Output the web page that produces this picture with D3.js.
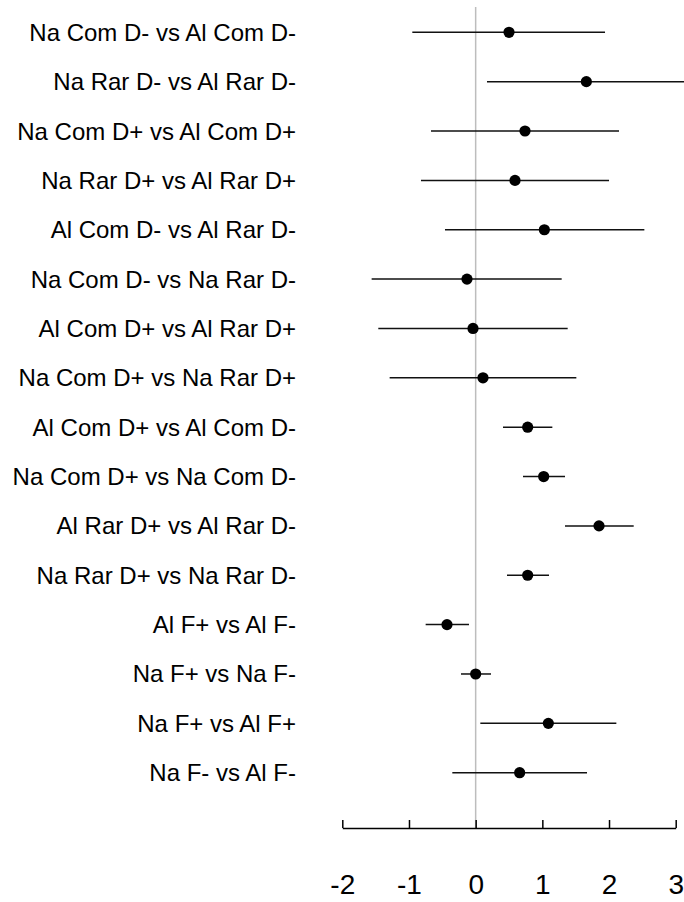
<!DOCTYPE html>
<html>
<head>
<meta charset="utf-8">
<script src="https://cdn.jsdelivr.net/npm/d3@7"></script>
<style>
  html, body { margin: 0; padding: 0; background: #fff; }
  svg { display: block; font-family: "Liberation Sans", Arial, Helvetica, sans-serif; }
</style>
</head>
<body>
<div id="chart"></div>
<script>
// Contrast labels, top to bottom
const comparisons = [
  "Na Com D- vs Al Com D-",
  "Na Rar D- vs Al Rar D-",
  "Na Com D+ vs Al Com D+",
  "Na Rar D+ vs Al Rar D+",
  "Al Com D- vs Al Rar D-",
  "Na Com D- vs Na Rar D-",
  "Al Com D+ vs Al Rar D+",
  "Na Com D+ vs Na Rar D+",
  "Al Com D+ vs Al Com D-",
  "Na Com D+ vs Na Com D-",
  "Al Rar D+ vs Al Rar D-",
  "Na Rar D+ vs Na Rar D-",
  "Al F+ vs Al F-",
  "Na F+ vs Na F-",
  "Na F+ vs Al F+",
  "Na F- vs Al F-"
];

// Point estimates and interval bounds
const estimates = [0.50, 1.66, 0.74, 0.59, 1.03, -0.13, -0.04, 0.11, 0.78, 1.02, 1.85, 0.78, -0.43, 0.00, 1.09, 0.66];
const lower     = [-0.95, 0.17, -0.67, -0.82, -0.46, -1.56, -1.46, -1.29, 0.41, 0.71, 1.34, 0.47, -0.75, -0.22, 0.07, -0.35];
const upper     = [1.94, 3.15, 2.15, 2.00, 2.53, 1.29, 1.38, 1.51, 1.15, 1.34, 2.37, 1.10, -0.10, 0.23, 2.11, 1.67];

// Axis tick values
const tickValues = [-2, -1, 0, 1, 2, 3];

const width = 684, height = 902;

const rows = comparisons.map((label, i) => ({
  label, est: estimates[i], lo: lower[i], hi: upper[i]
}));

const svg = d3.select("#chart").append("svg")
  .attr("width", width)
  .attr("height", height);

const x = d3.scaleLinear().domain([-2, 3]).range([342.3, 675.7]);
const y = d3.scalePoint().domain(comparisons).range([32.3, 772.7]);
const axisY = 828;

// Reference line at zero
svg.append("line")
  .attr("x1", x(0)).attr("x2", x(0))
  .attr("y1", 7).attr("y2", axisY)
  .attr("stroke", "#bdbdbd")
  .attr("stroke-width", 1.5);

// Interval lines
svg.append("g").selectAll("line")
  .data(rows)
  .join("line")
  .attr("x1", d => x(d.lo))
  .attr("x2", d => x(d.hi))
  .attr("y1", d => y(d.label))
  .attr("y2", d => y(d.label))
  .attr("stroke", "#111")
  .attr("stroke-width", 1.5);

// Point estimates
svg.append("g").selectAll("circle")
  .data(rows)
  .join("circle")
  .attr("cx", d => x(d.est))
  .attr("cy", d => y(d.label))
  .attr("r", 5.6)
  .attr("fill", "#000");

// Row labels
svg.append("g").selectAll("text")
  .data(rows)
  .join("text")
  .attr("x", 296)
  .attr("y", d => y(d.label) + 8.5)
  .attr("text-anchor", "end")
  .attr("font-size", 24)
  .attr("fill", "#000")
  .text(d => d.label);

// Bottom axis: ticks point upward, labels set well below
const axis = d3.axisBottom(x)
  .tickValues(tickValues)
  .tickFormat(d3.format("d"))
  .tickSizeInner(-8)
  .tickSizeOuter(0)
  .tickPadding(46);

const gAxis = svg.append("g")
  .attr("transform", `translate(0,${axisY})`)
  .call(axis);

gAxis.select(".domain").attr("stroke", "#000").attr("stroke-width", 1.5);
gAxis.selectAll(".tick line").attr("stroke", "#000").attr("stroke-width", 1.5);
gAxis.selectAll(".tick text")
  .attr("font-size", 28)
  .attr("font-family", "\"Liberation Sans\", Arial, Helvetica, sans-serif")
  .attr("fill", "#000")
  .text(d => d < 0 ? "-" + Math.abs(d) : String(d));
</script>
</body>
</html>
